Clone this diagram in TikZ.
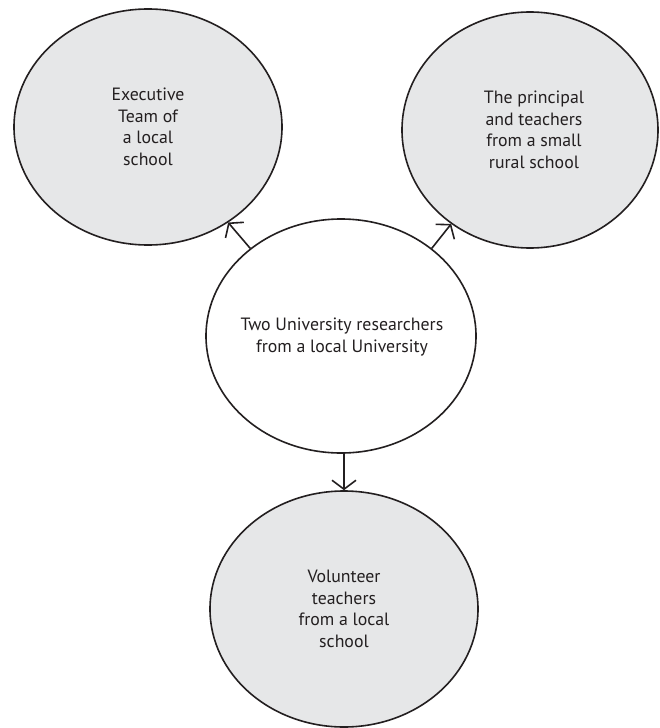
\documentclass[tikz,border=0pt]{standalone}
\usepackage{fontspec}
\setmainfont{PT Sans}
\usetikzlibrary{shapes.geometric,arrows.meta}
\definecolor{bubble}{RGB}{230,231,232}
\definecolor{ink}{RGB}{35,31,32}
\begin{document}
\begin{tikzpicture}[x=1pt,y=-1pt,
  bub/.style={ellipse,draw=ink,line width=1.6pt,inner sep=0pt,minimum width=268pt,minimum height=236pt},
  txt/.style={align=center,font=\fontsize{17.8}{21.5}\selectfont,inner sep=0pt,text=ink},
  arr/.style={draw=ink,line width=1.6pt,-{Straight Barb[length=9pt,width=24pt]}}]
\useasboundingbox (0,0) rectangle (659,728);
\fill[white] (0,0) rectangle (659,728);
\node[bub,fill=bubble] (tl) at (148,127) {};
\node[bub,fill=bubble,minimum width=256pt] (tr) at (530,130) {};
\node[bub,fill=white,minimum width=270pt,minimum height=234pt] (c) at (341,336) {};
\node[bub,fill=bubble] (b) at (344,609) {};
\node[txt] (tlt) at (148,127) {Executive\\Team of\\a local\\school};
\node[txt] (trt) at (534,130) {The principal\\and teachers\\from a small\\rural school};
\node[txt] (ct) at (342,337) {Two University researchers\\from a local University};
\node[txt] (bt) at (344,609) {Volunteer\\teachers\\from a local\\school};
\draw[arr] (c.136.8) -- (tl.-50.5);
\draw[arr] (c.44.2) -- (tr.230.6);
\draw[arr] (c.south -| b.north) -- (b.north);
\end{tikzpicture}
\end{document}
